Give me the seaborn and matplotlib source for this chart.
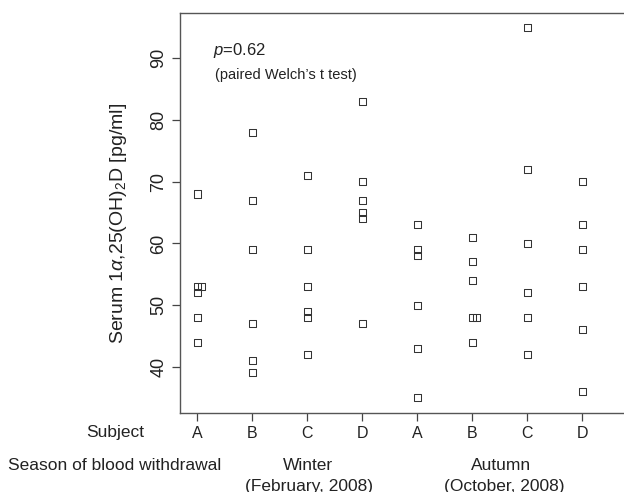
import pandas as pd
import numpy as np
import matplotlib
matplotlib.use('Agg')
import matplotlib.pyplot as plt
import seaborn as sns

# valores (pg/ml)
subjects = ['A', 'B', 'C', 'D']
seasons = ['Winter', 'Autumn']
winter_A = [68, 53, 53, 52, 48, 44]
winter_B = [78, 67, 59, 47, 41, 39]
winter_C = [71, 59, 53, 49, 48, 42]
winter_D = [83, 70, 67, 65, 64, 47]
autumn_A = [63, 59, 58, 50, 43, 35]
autumn_B = [61, 57, 54, 48, 48, 44]
autumn_C = [95, 72, 60, 52, 48, 42]
autumn_D = [70, 63, 59, 53, 46, 36]

groups = [winter_A, winter_B, winter_C, winter_D,
          autumn_A, autumn_B, autumn_C, autumn_D]

rows = []
for i, vals in enumerate(groups):
    seen = {}
    for v in vals:
        k = seen.get(v, 0)
        seen[v] = k + 1
        # valores repetidos se apilan a la derecha
        rows.append({'pos': i + 0.08 * k, 'value': v,
                     'subject': subjects[i % 4], 'season': seasons[i // 4]})
df = pd.DataFrame(rows)

sns.set_style('ticks')
plt.rcParams['font.family'] = ['Liberation Sans', 'DejaVu Sans']
plt.rcParams['mathtext.fontset'] = 'custom'
plt.rcParams['mathtext.rm'] = 'Liberation Sans'
plt.rcParams['mathtext.it'] = 'Liberation Sans:italic'

W, H = 624, 492
fig = plt.figure(figsize=(W / 100, H / 100), dpi=100)
ax = fig.add_axes([180 / W, (H - 413) / H, 1 - 180 / W, 400 / H])

sns.scatterplot(data=df, x='pos', y='value', marker='s', s=26,
                facecolor='none', edgecolor='#333333', linewidth=0.75,
                ax=ax, legend=False)
ax.collections[0].set_facecolor('none')

ax.set_xlim(-0.31, 7.76)
ax.set_ylim(32.5, 97.35)
ax.set_xticks(range(8))
ax.set_xticklabels(subjects * 2, fontsize=11.5, color='#222222')
ax.set_yticks([40, 50, 60, 70, 80, 90])
ax.set_yticklabels(['40', '50', '60', '70', '80', '90'], rotation=90,
                   va='center', fontsize=13, color='#222222')
ax.set_xlabel('')
ax.set_ylabel(r'Serum 1$\alpha$,25(OH)$_2$D [pg/ml]', fontsize=14,
              color='#222222')
ax.yaxis.set_label_coords(-51 / 444, (413 - 223) / 400)
ax.tick_params(direction='out', length=6, width=0.9, color='#444444', pad=3)
for side in ['left', 'top', 'bottom']:
    ax.spines[side].set_color('#555555')
    ax.spines[side].set_linewidth(1.0)
ax.spines['right'].set_visible(False)

fig.text(213 / W, (H - 50) / H, r'$p$=0.62', fontsize=12, va='center',
         color='#222222')
fig.text(215 / W, (H - 75) / H, "(paired Welch’s t test)", fontsize=10.5,
         va='center', color='#222222')

fig.text(115 / W, (H - 433) / H, 'Subject', fontsize=12.5, ha='center',
         va='center', color='#222222')
fig.text(115 / W, (H - 466) / H, 'Season of blood withdrawal', fontsize=12.5,
         ha='center', va='center', color='#222222')
fig.text(308 / W, (H - 466) / H, 'Winter', fontsize=12.5, ha='center',
         va='center', color='#222222')
fig.text(309 / W, (H - 486) / H, '(February, 2008)', fontsize=12.5,
         ha='center', va='center', color='#222222')
fig.text(501 / W, (H - 466) / H, 'Autumn', fontsize=12.5, ha='center',
         va='center', color='#222222')
fig.text(504 / W, (H - 486) / H, '(October, 2008)', fontsize=12.5,
         ha='center', va='center', color='#222222')

fig.savefig('out.png', dpi=100)
